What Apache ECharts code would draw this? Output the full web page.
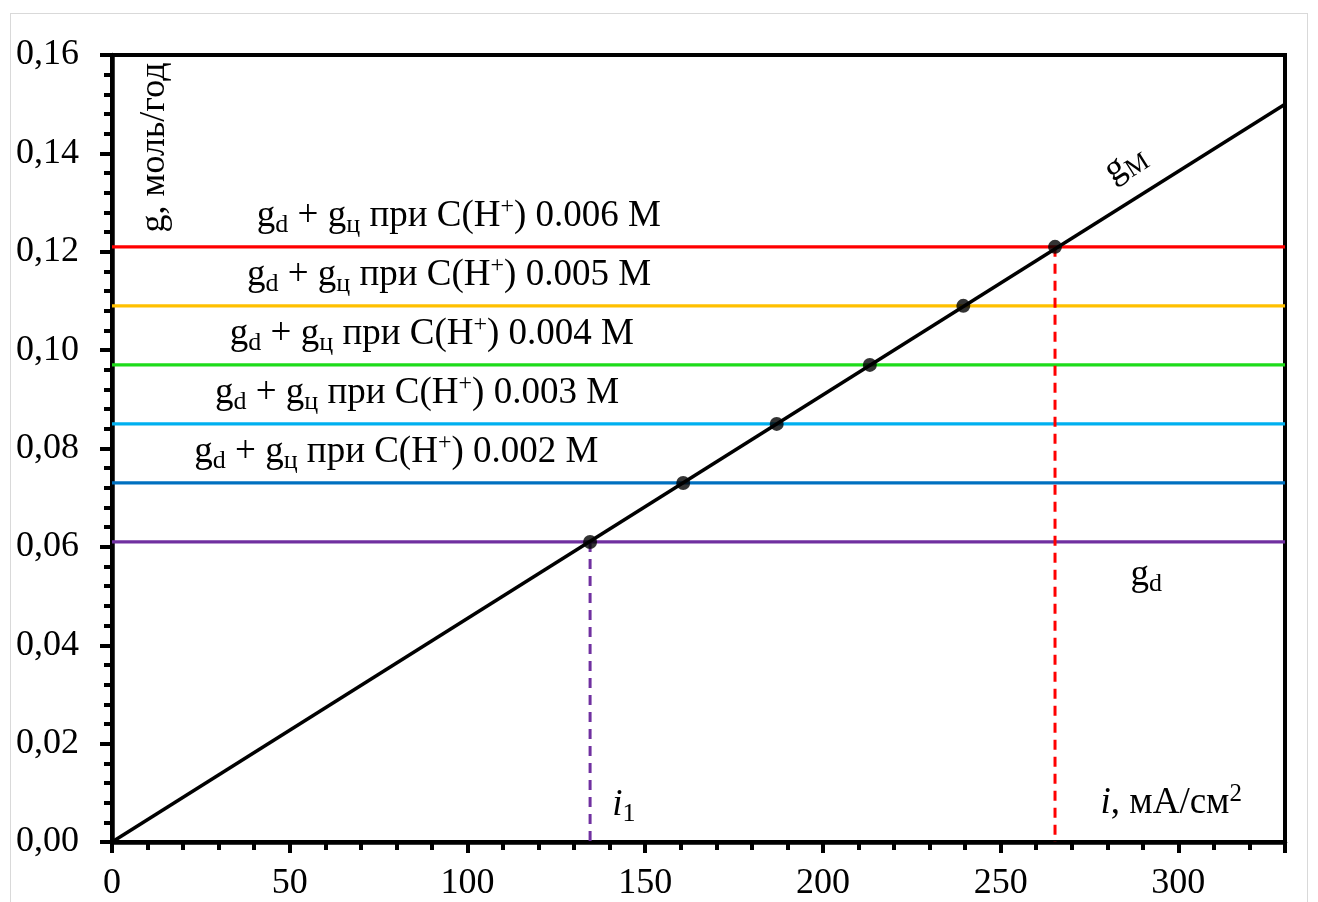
<!DOCTYPE html>
<html>
<head>
<meta charset="utf-8">
<script src="https://cdn.jsdelivr.net/npm/echarts@6/dist/echarts.min.js"></script>
<style>
  html, body { margin: 0; padding: 0; background: #fff; }
  #frame { position: absolute; left: 10px; top: 13px; width: 1298px; height: 900px;
           border: 1px solid #d9d9d9; box-sizing: border-box; }
  #chart { position: absolute; left: 0; top: 0; width: 1318px; height: 902px; }
</style>
</head>
<body>
<div id="frame"></div>
<div id="chart"></div>
<script>
// Current density axis (mA/cm²) and rate axis (mol/year)
const xTicks = [0, 50, 100, 150, 200, 250, 300];
const yTicks = [0.00, 0.02, 0.04, 0.06, 0.08, 0.10, 0.12, 0.14, 0.16];

// g_M line: rate grows linearly with current density
const gmI = [0, 330];
const gmG = [0, 0.15];

// Levels g_d and g_d + g_ц for each acid concentration
const levelG = [0.061, 0.073, 0.085, 0.097, 0.109, 0.121];
const levelColors = ['#7030A0', '#0070C0', '#00B0F0', '#1EDC1A', '#FFC000', '#FF0000'];
const concentrations = ['0.002', '0.003', '0.004', '0.005', '0.006'];

// Intersection current densities
const crossI = [134.5, 160.7, 187.0, 213.2, 239.5, 265.3];

const FONT = '"Liberation Serif", "Times New Roman", serif';

const chart = echarts.init(document.getElementById('chart'), null, { renderer: 'canvas' });

const series = [];

// horizontal levels
levelG.forEach((g, k) => {
  series.push({
    type: 'line', xAxisIndex: 0, yAxisIndex: 0,
    data: [[0, g], [330, g]],
    symbol: 'none', silent: true, z: 2,
    lineStyle: { color: levelColors[k], width: 3.2 }
  });
});

// dashed drops to i1 and to the highest level
[[0, '#7030A0'], [5, '#FF0000']].forEach(([k, c]) => {
  series.push({
    type: 'line', xAxisIndex: 0, yAxisIndex: 0,
    data: [[crossI[k], levelG[k]], [crossI[k], 0]],
    symbol: 'none', silent: true, z: 2,
    lineStyle: { color: c, width: 3, type: [10, 7] }
  });
});

// g_M line
series.push({
  type: 'line', xAxisIndex: 0, yAxisIndex: 0,
  data: gmI.map((v, k) => [v, gmG[k]]),
  symbol: 'none', silent: true, z: 3,
  lineStyle: { color: '#000', width: 3.5 }
});

// intersection markers
series.push({
  type: 'scatter', xAxisIndex: 0, yAxisIndex: 0,
  data: crossI.map((v, k) => [v, levelG[k]]),
  symbol: 'circle', symbolSize: 14, z: 4,
  itemStyle: { color: '#000' }
});

const axisLabelStyle = { fontFamily: FONT, fontSize: 36, color: '#000' };

chart.setOption({
  animation: false,
  backgroundColor: 'transparent',
  grid: { left: 112, right: 33, top: 55, bottom: 60, show: true,
          borderColor: '#000', borderWidth: 4, backgroundColor: 'transparent' },
  xAxis: [
    {
      type: 'value', min: 0, max: 330, interval: 50, position: 'bottom',
      axisLine: { show: true, onZero: false, lineStyle: { color: '#000', width: 4.5 } },
      axisTick: { show: true, length: 11, lineStyle: { color: '#000', width: 4 } },
      splitLine: { show: false },
      axisLabel: Object.assign({ margin: 24,
        formatter: v => (xTicks.indexOf(v) >= 0 ? String(v) : '') }, axisLabelStyle)
    },
    {
      type: 'value', min: 0, max: 330, interval: 10, position: 'bottom',
      axisLine: { show: false },
      axisTick: { show: true, length: 8, lineStyle: { color: '#000', width: 4 } },
      splitLine: { show: false },
      axisLabel: { show: false }
    }
  ],
  yAxis: [
    {
      type: 'value', min: 0, max: 0.16, interval: 0.02, position: 'left',
      axisLine: { show: true, onZero: false, lineStyle: { color: '#000', width: 4.5 } },
      axisTick: { show: true, length: 12, lineStyle: { color: '#000', width: 4 } },
      minorTick: { show: true, splitNumber: 5, length: 8, lineStyle: { color: '#000', width: 4 } },
      splitLine: { show: false },
      axisLabel: Object.assign({ margin: 33,
        formatter: v => v.toFixed(2).replace('.', ',') }, axisLabelStyle)
    }
  ],
  series: series
});

// Text annotations anchored to data coordinates
const px = (x, y) => chart.convertToPixel({ gridIndex: 0 }, [x, y]);

const rich = {
  n:   { fontFamily: FONT, fontSize: 37, color: '#000' },
  sub: { fontFamily: FONT, fontSize: 26, color: '#000', padding: [18, 0, 0, 0] },
  sup: { fontFamily: FONT, fontSize: 24, color: '#000', padding: [0, 0, 18, 0] },
  it:  { fontFamily: FONT, fontSize: 37, color: '#000', fontStyle: 'italic' },
  ax:  { fontFamily: FONT, fontSize: 37, color: '#000' },
  axsup: { fontFamily: FONT, fontSize: 25, color: '#000', padding: [0, 0, 18, 0] },
  axit: { fontFamily: FONT, fontSize: 37, color: '#000', fontStyle: 'italic' },
  axsub: { fontFamily: FONT, fontSize: 26, color: '#000', padding: [18, 0, 0, 0] }
};

// horizontal centre of each "g_d + g_ц" caption, in current-density units
const captionCentreI = [80.0, 85.8, 90.0, 94.8, 97.6];

const graphics = [];
concentrations.forEach((c, k) => {
  const p = px(captionCentreI[k], levelG[k + 1]);
  graphics.push({
    type: 'text', x: p[0], y: p[1] - 31, z: 10,
    style: {
      text: '{n|g}{sub|d}{n| + g}{sub|ц}{n| при C(H}{sup|+}{n|) ' + c + ' M}',
      rich: rich, align: 'center', verticalAlign: 'middle'
    }
  });
});

// g_d caption under the lowest level
const pgd = px(291, levelG[0]);
graphics.push({
  type: 'text', x: pgd[0], y: pgd[1] + 33, z: 10,
  style: { text: '{n|g}{sub|d}', rich: rich, align: 'center', verticalAlign: 'middle' }
});

// g_M caption along the line
const pgm = px(285, 0.138);
const slope = px(330, 0.15), origin = px(0, 0);
const ang = Math.atan2(origin[1] - slope[1], slope[0] - origin[0]);
graphics.push({
  type: 'text', x: pgm[0], y: pgm[1], rotation: ang, z: 10,
  style: { text: '{n|g}{sub|M}', rich: rich, align: 'center', verticalAlign: 'middle' }
});

// i1 caption near the left dashed drop
const pi1 = px(crossI[0] + 9.5, 0.0075);
graphics.push({
  type: 'text', x: pi1[0], y: pi1[1], z: 10,
  style: { text: '{it|i}{axsub|1}', rich: rich, align: 'center', verticalAlign: 'middle' }
});

// x-axis title inside the plot
const pxt = px(298, 0.0078);
graphics.push({
  type: 'text', x: pxt[0], y: pxt[1], z: 10,
  style: { text: '{axit|i}{ax|, мА/см}{axsup|2}', rich: rich, align: 'center', verticalAlign: 'middle' }
});

// y-axis title inside the plot, rotated
const pyt = px(12, 0.1412);
graphics.push({
  type: 'text', x: pyt[0], y: pyt[1], rotation: Math.PI / 2, z: 10,
  style: { text: 'g, моль/год', fontFamily: FONT, fontSize: 36, fill: '#000',
           align: 'center', verticalAlign: 'middle' }
});

chart.setOption({ graphic: graphics });
</script>
</body>
</html>
